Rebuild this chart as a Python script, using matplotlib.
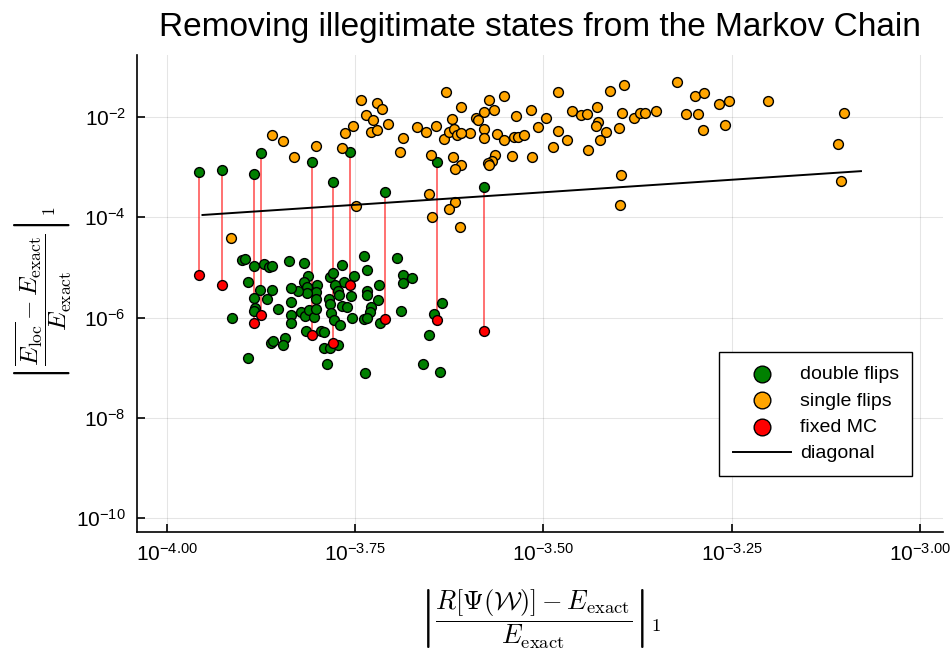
import numpy as np
import matplotlib
matplotlib.use("Agg")
import matplotlib.pyplot as plt

plt.rcParams['font.family'] = ['Liberation Sans', 'DejaVu Sans']
plt.rcParams['mathtext.fontset'] = 'custom'
plt.rcParams['mathtext.rm'] = 'Liberation Sans'
plt.rcParams['mathtext.it'] = 'Liberation Sans:italic'
plt.rcParams['mathtext.bf'] = 'Liberation Sans:bold'

# all errors stored as log10 values

# double flips (green)
double_logx = [-3.901, -3.896, -3.884, -3.871, -3.865, -3.860, -3.838, -3.818, -3.813, -3.818,
               -3.814, -3.801, -3.802, -3.814, -3.826, -3.835, -3.835, -3.835, -3.835, -3.822,
               -3.817, -3.811, -3.805, -3.802, -3.802, -3.815, -3.796, -3.792, -3.791, -3.783,
               -3.773, -3.787, -3.785, -3.783, -3.782, -3.778, -3.770, -3.784, -3.780, -3.768,
               -3.765, -3.777, -3.773, -3.771, -3.755, -3.767, -3.761, -3.754, -3.752, -3.738,
               -3.734, -3.735, -3.735, -3.719, -3.720, -3.729, -3.730, -3.738, -3.734, -3.717,
               -3.695, -3.687, -3.686, -3.674, -3.689, -3.737, -3.892, -3.876, -3.860, -3.885,
               -3.867, -3.883, -3.884, -3.853, -3.914, -3.862, -3.859, -3.843, -3.846, -3.892,
               -3.652, -3.645, -3.635, -3.660, -3.638]
double_logy = [-4.846, -4.836, -4.976, -4.940, -4.996, -4.966, -4.862, -4.920, -5.170, -5.286,
               -5.392, -5.360, -5.486, -5.506, -5.480, -5.402, -5.690, -5.950, -6.110, -5.882,
               -5.970, -5.856, -5.986, -5.626, -5.822, -6.272, -6.276, -6.290, -6.600, -6.612,
               -6.556, -6.926, -5.620, -5.720, -5.910, -6.042, -6.156, -5.190, -5.112, -4.942,
               -5.290, -5.350, -5.480, -5.556, -5.576, -5.770, -5.782, -6.000, -5.172, -4.766,
               -5.046, -5.470, -5.550, -5.356, -5.640, -5.782, -5.882, -6.022, -6.016, -6.110,
               -4.812, -5.160, -5.302, -5.216, -5.870, -7.112, -5.300, -5.450, -5.442, -5.600,
               -5.630, -5.800, -5.876, -5.832, -6.010, -6.500, -6.472, -6.412, -6.542, -6.806,
               -6.350, -5.930, -5.716, -6.922, -7.090]

# double flips with illegitimate states, before and after the fixed Markov chain
fixed_logx = [-3.957, -3.927, -3.885, -3.875, -3.807, -3.779, -3.757, -3.710, -3.641, -3.579]
fixed_before_logy = [-3.090, -3.062, -3.136, -2.716, -2.896, -3.302, -2.696, -3.502, -2.902, -3.402]
fixed_after_logy = [-5.156, -5.342, -6.110, -5.942, -6.350, -6.516, -5.356, -6.022, -6.050, -6.276]

# single flips (orange)
single_logx = [-3.861, -3.846, -3.832, -3.802, -3.767, -3.764, -3.753, -3.915, -3.749, -3.630,
               -3.743, -3.721, -3.714, -3.736, -3.727, -3.706, -3.729, -3.721, -3.686, -3.668,
               -3.656, -3.643, -3.622, -3.610, -3.572, -3.553, -3.565, -3.579, -3.589, -3.587,
               -3.537, -3.517, -3.497, -3.507, -3.579, -3.579, -3.562, -3.552, -3.539, -3.534,
               -3.526, -3.597, -3.632, -3.626, -3.619, -3.615, -3.610, -3.690, -3.649, -3.620,
               -3.609, -3.618, -3.564, -3.568, -3.573, -3.572, -3.542, -3.515, -3.652, -3.618,
               -3.648, -3.625, -3.611, -3.481, -3.412, -3.393, -3.322, -3.298, -3.287, -3.267,
               -3.254, -3.202, -3.100, -3.462, -3.450, -3.442, -3.429, -3.428, -3.430, -3.396,
               -3.379, -3.371, -3.365, -3.351, -3.311, -3.295, -3.480, -3.399, -3.417, -3.425,
               -3.469, -3.487, -3.441, -3.288, -3.259, -3.397, -3.109, -3.104, -3.398]
single_logy = [-2.362, -2.476, -2.790, -2.570, -2.610, -2.316, -2.182, -4.410, -3.776, -1.496,
               -1.650, -1.710, -1.836, -1.950, -2.050, -2.142, -2.290, -2.262, -2.410, -2.190,
               -2.302, -2.176, -2.036, -1.802, -1.650, -1.582, -1.850, -1.896, -2.022, -2.056,
               -1.976, -1.862, -2.022, -2.196, -2.236, -2.410, -2.342, -2.462, -2.390, -2.396,
               -2.350, -2.316, -2.430, -2.302, -2.242, -2.362, -2.316, -2.696, -2.750, -2.790,
               -2.950, -3.042, -2.756, -2.882, -2.910, -2.956, -2.770, -2.790, -3.542, -3.696,
               -3.990, -3.842, -4.196, -1.496, -1.476, -1.356, -1.296, -1.576, -1.516, -1.736,
               -1.676, -1.676, -1.916, -1.876, -1.956, -1.936, -1.796, -2.096, -2.176, -1.916,
               -2.016, -1.916, -1.916, -1.876, -1.936, -1.936, -2.276, -2.216, -2.296, -2.456,
               -2.456, -2.596, -2.656, -2.256, -2.156, -3.156, -2.536, -3.276, -3.750]

diag_logx = [-3.953, -3.078]

xtick_exp = [-4.0, -3.75, -3.5, -3.25, -3.0]
xtick_labels = [r'$10^{-4.00}$', r'$10^{-3.75}$', r'$10^{-3.50}$', r'$10^{-3.25}$', r'$10^{-3.00}$']
ytick_exp = [-10, -8, -6, -4, -2]
ytick_labels = [r'$10^{-10}$', r'$10^{-8}$', r'$10^{-6}$', r'$10^{-4}$', r'$10^{-2}$']

fig = plt.figure(figsize=(9.5, 6.5), dpi=100)
ax = fig.add_axes([137 / 950, 1 - 532 / 650, 806 / 950, 477 / 650])
ax.set_xscale('log')
ax.set_yscale('log')

green_x = 10 ** np.concatenate([double_logx, fixed_logx])
green_y = 10 ** np.concatenate([double_logy, fixed_before_logy])
fx = 10 ** np.array(fixed_logx)

# red connectors between the bad double flips and their fixed values
ax.vlines(fx, 10 ** np.array(fixed_after_logy), 10 ** np.array(fixed_before_logy),
          color='red', alpha=0.6, linewidth=1.3, zorder=2)

mk = dict(s=50, edgecolors='black', linewidths=1.0, zorder=3)
ax.scatter(green_x, green_y, color='green', label='double flips', **mk)
ax.scatter(10 ** np.array(single_logx), 10 ** np.array(single_logy), color='orange',
           label='single flips', **mk)
ax.scatter(fx, 10 ** np.array(fixed_after_logy), color='red', label='fixed MC', **mk)
dx = 10 ** np.array(diag_logx)
ax.plot(dx, dx, color='black', linewidth=1.4, label='diagonal', zorder=4)

ax.set_xlim(10 ** -4.040, 10 ** -2.969)
ax.set_ylim(10 ** -10.28, 10 ** -0.76)
ax.set_xticks(10 ** np.array(xtick_exp))
ax.set_xticklabels(xtick_labels)
ax.set_yticks(10.0 ** np.array(ytick_exp))
ax.set_yticklabels(ytick_labels)
ax.minorticks_off()
ax.tick_params(direction='in', length=6, width=1.2, labelsize=15, pad=8)
ax.grid(True, color='black', alpha=0.1, linewidth=0.8)
ax.set_axisbelow(True)
for side in ['top', 'right']:
    ax.spines[side].set_visible(False)
for side in ['left', 'bottom']:
    ax.spines[side].set_linewidth(1.2)

ax.set_title('Removing illegitimate states from the Markov Chain', fontsize=24, pad=14)
ax.set_xlabel(r'$\left|\dfrac{R[\Psi(\mathcal{W})] - E_\mathrm{exact}}{E_\mathrm{exact}}\right|_1$',
              fontsize=19, math_fontfamily='cm', labelpad=16)
ax.set_ylabel(r'$\left|\dfrac{\overline{E_\mathrm{loc}} - E_\mathrm{exact}}{E_\mathrm{exact}}\right|_1$',
              fontsize=18, math_fontfamily='cm', labelpad=2)

leg = ax.legend(loc='upper left', bbox_to_anchor=(719 / 950, 1 - 352 / 650),
                bbox_transform=fig.transFigure, borderaxespad=0, fontsize=14,
                fancybox=False, framealpha=1, edgecolor='black', markerscale=1.7,
                handlelength=3.0, handletextpad=0.45, labelspacing=0.45, borderpad=0.7)
leg.get_frame().set_linewidth(1.0)

fig.savefig('out.png', dpi=100)
